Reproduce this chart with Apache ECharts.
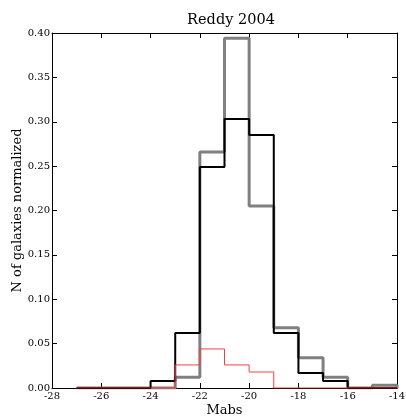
<!DOCTYPE html>
<html>
<head>
<meta charset="utf-8">
<script src="https://cdn.jsdelivr.net/npm/echarts@6/dist/echarts.min.js"></script>
<style>
  html, body { margin: 0; padding: 0; background: #fff; }
  #chart { width: 406px; height: 416px; }
</style>
</head>
<body>
<div id="chart"></div>
<script>
// bin edges (Mabs), width 1
var binEdges = [-27, -26, -25, -24, -23, -22, -21, -20, -19, -18, -17, -16, -15, -14];
// normalized counts per bin
var grayValues = [0, 0, 0, 0, 0.012, 0.266, 0.394, 0.205, 0.068, 0.034, 0.012, 0, 0.003];
var blackValues = [0, 0, 0, 0.008, 0.062, 0.249, 0.303, 0.285, 0.062, 0.017, 0.008, 0, 0];
var redValues = [0, 0, 0, 0, 0.026, 0.044, 0.026, 0.018, 0, 0, 0, 0, 0];

var font = "DejaVu Serif";

// turn a histogram into step outline points
function stepPoints(edges, values) {
  var pts = [[edges[0], 0]];
  values.forEach(function (v, i) {
    pts.push([edges[i], v]);
    pts.push([edges[i + 1], v]);
  });
  pts.push([edges[edges.length - 1], 0]);
  return pts;
}

var myChart = echarts.init(document.getElementById("chart"));

var labelStyle = { color: "#000", fontFamily: font, fontSize: 10 };
var axisLineStyle = { color: "#000", width: 1 };

function xAx(pos, showLabel) {
  return {
    type: "value",
    position: pos,
    min: -28,
    max: -14,
    interval: 2,
    axisLine: { show: true, onZero: false, lineStyle: axisLineStyle },
    axisTick: { show: true, inside: true, length: 5, lineStyle: axisLineStyle },
    axisLabel: Object.assign({ show: showLabel, margin: 3 }, labelStyle),
    splitLine: { show: false },
    name: showLabel ? "Mabs" : "",
    nameLocation: "middle",
    nameGap: 16,
    nameMoveOverlap: false,
    nameTextStyle: { color: "#000", fontFamily: font, fontSize: 13 },
  };
}

function yAx(pos, showLabel) {
  return {
    type: "value",
    position: pos,
    min: 0,
    max: 0.4,
    interval: 0.05,
    axisLine: { show: true, onZero: false, lineStyle: axisLineStyle },
    axisTick: { show: true, inside: true, length: 5, lineStyle: axisLineStyle },
    axisLabel: Object.assign(
      {
        show: showLabel,
        margin: 2,
        formatter: function (v) {
          return v.toFixed(2);
        },
      },
      labelStyle
    ),
    splitLine: { show: false },
    name: showLabel ? "N of galaxies normalized" : "",
    nameLocation: "middle",
    nameGap: 28,
    nameMoveOverlap: false,
    nameTextStyle: { color: "#000", fontFamily: font, fontSize: 13 },
  };
}

var option = {
  animation: false,
  title: {
    text: "Reddy 2004",
    left: 226,
    textAlign: "center",
    top: 8,
    textStyle: { color: "#000", fontFamily: font, fontSize: 14.5, fontWeight: "normal" },
  },
  grid: { left: 52, right: 9, top: 33, bottom: 28, outerBoundsMode: "none" },
  xAxis: [xAx("bottom", true), xAx("top", false)],
  yAxis: [yAx("left", true), yAx("right", false)],
  series: [
    {
      type: "line",
      data: stepPoints(binEdges, grayValues),
      showSymbol: false,
      lineStyle: { color: "#808080", width: 3 },
      z: 2,
    },
    {
      type: "line",
      data: stepPoints(binEdges, blackValues),
      showSymbol: false,
      lineStyle: { color: "#000", width: 2 },
      z: 3,
    },
    {
      type: "line",
      data: stepPoints(binEdges, redValues),
      showSymbol: false,
      lineStyle: { color: "#ff3b3b", width: 1 },
      z: 4,
    },
  ],
};

myChart.setOption(option);
window.addEventListener("resize", function () {
  myChart.resize();
});
</script>
</body>
</html>
